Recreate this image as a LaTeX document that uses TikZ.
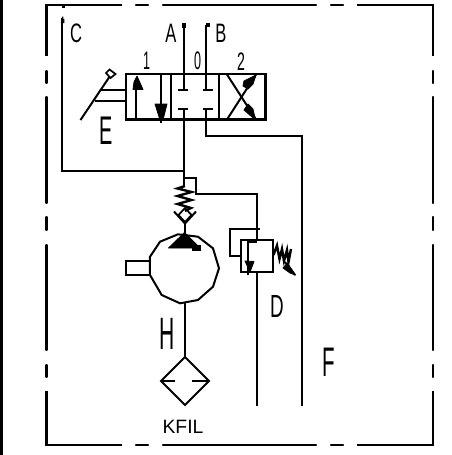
\documentclass[tikz,border=0pt]{standalone}
\usepackage{fontspec}
\setmainfont{Liberation Sans}
\tikzset{
  ln/.style={line width=1.5pt,line cap=butt,line join=miter},
  thick ln/.style={line width=1.8pt,line join=miter},
  border/.style={line width=1.6pt,line cap=round},
  lab/.style={inner sep=0pt,font=\fontsize{#1}{#1}\selectfont,xscale=.62},
  lab/.default=20,
  blk/.style={fill=black,draw=black,line width=.6pt,line join=round}
}
\begin{document}
\begin{tikzpicture}[x=0.75pt,y=-0.75pt]
\useasboundingbox (0,0) rectangle (452,455);
\fill[black] (0,0) rectangle (2.6,455);
% dashed frame
\draw[border,line cap=butt] (122,5) -- (46.5,5) -- (46.5,56);
\draw[border] (46.5,71) -- (46.5,83) (46.5,97) -- (46.5,203) (46.5,217) -- (46.5,230) (46.5,245) -- (46.5,350) (46.5,365) -- (46.5,377);
\draw[border,line cap=butt] (46.5,391) -- (46.5,445) -- (122,445);
\draw[border] (136,5) -- (148,5) (163,5) -- (316,5) (331,5) -- (343,5);
\draw[border,line cap=butt] (357,5) -- (433,5) -- (433,56);
\draw[border] (433,71) -- (433,83) (433,97) -- (433,203) (433,217) -- (433,230) (433,245) -- (433,350) (433,365) -- (433,377);
\draw[border,line cap=butt] (433,391) -- (433,445) -- (357,445);
\draw[border] (136,445) -- (148,445) (163,445) -- (316,445) (331,445) -- (343,445);
\fill (62,5) rectangle (65,8);
% named points
\coordinate (tee) at (185,170.5);
\coordinate (pC) at (62,18);
\coordinate (pA) at (184.5,25);
\coordinate (pB) at (206,25);
\coordinate (mainTop) at (257,194);
% valve
\draw[thick ln] (126,74) rectangle (265.5,119.5);
\draw[thick ln] (171,74) -- (171,119.5) (219,74) -- (219,119.5);
% section 1 arrows
\draw[ln] (136.5,119.5) -- (136.5,80);
\fill[blk] (137,76) -- (143,89.5) -- (133,89.5) -- (134,82) -- cycle;
\draw[ln] (161,74) -- (161,122.5);
\fill[blk] (155,104) -- (167,104) -- (163,120) -- (160,120) -- cycle;
% section 0
\draw[ln] (pA) -- (184.5,89.5);
\draw[ln] (178,89.5) -- (188.5,89.5);
\draw[ln] (pB) -- (206,89.5);
\draw[ln] (203,89.5) -- (213,89.5);
\fill (182.5,23) rectangle (186.5,27.5);
\fill (206,23) rectangle (210,27);
\draw[ln] (178,108.5) -- (188.5,108.5);
\draw[ln] (203,108.5) -- (213,108.5);
% section 2
\draw[ln] (227,74.5) -- (256,119.5);
\draw[ln] (227,119.5) -- (256,74.5);
\fill[blk] (256,75) -- (244,81) -- (243,86) -- (248,89) -- (253,84) -- cycle;
\fill[blk] (255.5,120) -- (244,110) -- (248,104) -- (253,109) -- cycle;
% lever
\draw[ln] (80.5,120) -- (110,76);
\draw[line width=1.3pt,fill=white] (109.5,69.5) -- (115.5,74) -- (110.5,78) -- (106,73) -- cycle;
\draw[ln] (100,90) -- (126,90) (95,100.5) -- (126,100.5);
% pipes
\draw[ln] (pC) -- (62,170.5) -- (tee);
\fill (62,16.5) rectangle (63.5,19) (62,19) rectangle (64.5,23);
\draw[ln] (184.5,108.5) -- (184.5,186);
\draw[ln] (206,108.5) -- (206,135.5) -- (302,135.5) -- (302,406);
\draw[ln] (185,178) -- (196,178) -- (196,194) -- (mainTop) -- (257,241);
\draw[ln] (257,272) -- (257,406);
% spring and check valve
\draw[line width=1.8pt] (185,186) -- (177.5,188.5) -- (191.5,192) -- (177.5,196) -- (191.5,200) -- (177.5,204) -- (191,208) -- (185,211);
\draw[line width=1.3pt] (185,208) -- (178.5,215) -- (185,222) -- (191.5,215) -- cycle;
\draw[ln] (174,211.5) -- (185,223.5) -- (196,211.5);
\draw[ln] (185,222) -- (185,234);
% pump
\draw[ln] (150,256.7) -- (160,241.7) -- (178,234.3) -- (198,236.7) -- (213,248.3) -- (219,268.3) -- (213,286.7) -- (198,300) -- (180,303.3) -- (161.7,295) -- (150,275) -- cycle;
\fill[blk] (184.5,232.5) -- (200,248) -- (168.5,248) -- cycle;
\fill (192,245) rectangle (201,250.5);
\draw[ln] (150,261) -- (126,261) -- (126,274.5) -- (150,274.5);
\draw[ln] (185,303) -- (185,357);
% filter
\draw[ln] (185,357) -- (209,381) -- (185,405) -- (161,381) -- cycle;
\draw[ln] (161,381) -- (175,381) (192,381) -- (209,381);
% pressure valve
\draw[ln] (241,239.5) rectangle (273.5,272);
\draw[ln] (260,228.5) -- (230,228.5) -- (230,256) -- (241,256);
\draw[ln] (257,241.5) -- (248,241.5) -- (248,275);
\fill[blk] (245,261) -- (254,261.5) -- (250,272) -- cycle;
\draw[line width=1.8pt] (273.5,255) -- (277,245.5) -- (279.5,259) -- (282,249) -- (284,261) -- (287,250) -- (288.5,262) -- (291,249);
\draw[ln] (285,262) -- (295,275);
\fill[blk] (287.5,263) -- (295.5,275) -- (290,273) -- (283,268) -- cycle;
% labels
\node[lab] (lC) at (76,33.5) {C};
\node[lab] (lA) at (171,33.5) {A};
\node[lab] (lB) at (221,33.5) {B};
\node[lab=19,xscale=.8] (l1) at (146.5,61) {1};
\node[lab=19,xscale=.8] (l0) at (197.5,61) {0};
\node[lab=19,xscale=.9] (l2) at (241,61.5) {2};
\node[lab=30,xscale=.8] (lE) at (106,131) {E};
\node[lab=34,xscale=.75] (lH) at (167.5,334) {H};
\node[lab=24,xscale=.95] (lD) at (277,306) {D};
\node[lab=31,xscale=.8] (lF) at (329,362.5) {F};
\node[inner sep=0pt,font=\fontsize{14.5}{14.5}\selectfont] (lK) at (183,426.5) {KFIL};
\end{tikzpicture}
\end{document}
